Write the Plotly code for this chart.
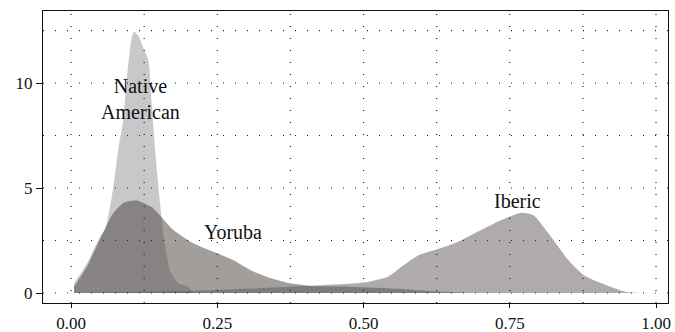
import plotly.graph_objects as go

# Native American density
na_x = [0.005, 0.027, 0.05, 0.058, 0.072, 0.081, 0.089, 0.095, 0.104, 0.108, 0.116, 0.123, 0.132, 0.138, 0.144, 0.152, 0.158, 0.169, 0.183, 0.2, 0.209]
na_y = [0.45, 1.4, 2.7, 3.0, 5.0, 6.9, 8.2, 10.1, 12.2, 12.45, 12.2, 11.7, 11.1, 9.0, 6.7, 4.3, 2.7, 1.1, 0.48, 0.3, 0.0]

# Yoruba density
yo_x = [0.005, 0.027, 0.05, 0.072, 0.09, 0.112, 0.14, 0.175, 0.209, 0.249, 0.277, 0.306, 0.334, 0.374, 0.42, 0.47, 0.52, 0.57, 0.62, 0.68]
yo_y = [0.3, 1.25, 2.6, 3.8, 4.3, 4.4, 4.04, 3.0, 2.37, 1.9, 1.57, 1.1, 0.78, 0.47, 0.32, 0.3, 0.25, 0.18, 0.08, 0.0]

# Iberic density
ib_x = [0.03, 0.1, 0.2, 0.3, 0.4, 0.45, 0.5, 0.542, 0.565, 0.594, 0.622, 0.656, 0.69, 0.736, 0.77, 0.79, 0.816, 0.85, 0.876, 0.907, 0.947, 0.975]
ib_y = [0.02, 0.05, 0.1, 0.2, 0.33, 0.4, 0.5, 0.78, 1.25, 1.8, 2.05, 2.37, 2.85, 3.48, 3.82, 3.71, 2.84, 1.57, 0.86, 0.46, 0.06, 0.0]

x_ticks = [0.0, 0.25, 0.5, 0.75, 1.0]
x_tick_text = ["0.00", "0.25", "0.50", "0.75", "1.00"]
y_ticks = [0, 5, 10]
x_grid = [0.0, 0.125, 0.25, 0.375, 0.5, 0.625, 0.75, 0.875, 1.0]
y_grid = [0, 2.5, 5, 7.5, 10, 12.5]

labels = ["Native<br>American", "Yoruba", "Iberic"]
label_x = [0.118, 0.277, 0.764]
label_y = [9.25, 2.9, 4.4]

FONT = "Liberation Serif, Times New Roman, serif"

fig = go.Figure()
fig.add_trace(go.Scatter(x=na_x, y=na_y, mode="lines", fill="tozeroy",
                         line=dict(width=0, shape="spline", smoothing=0.6),
                         fillcolor="#c8c8ca", hoverinfo="skip"))
fig.add_trace(go.Scatter(x=yo_x, y=yo_y, mode="lines", fill="tozeroy",
                         line=dict(width=0, shape="spline", smoothing=0.6),
                         fillcolor="rgba(67,61,58,0.5)", hoverinfo="skip"))
fig.add_trace(go.Scatter(x=ib_x, y=ib_y, mode="lines", fill="tozeroy",
                         line=dict(width=0, shape="spline", smoothing=0.6),
                         fillcolor="rgba(93,88,85,0.5)", hoverinfo="skip"))

shapes = []
for gx in x_grid:
    shapes.append(dict(type="line", xref="x", yref="paper", x0=gx, x1=gx, y0=0, y1=1,
                       layer="above", line=dict(color="#222", width=1.2, dash="1px,11px")))
for gy in y_grid:
    shapes.append(dict(type="line", xref="paper", yref="y", x0=0, x1=1, y0=gy, y1=gy,
                       layer="above", line=dict(color="#222", width=1.2, dash="1px,11px")))

annotations = [dict(x=lx, y=ly, text=t, showarrow=False, xref="x", yref="y",
                    font=dict(family=FONT, size=20, color="#111"))
               for t, lx, ly in zip(labels, label_x, label_y)]

fig.update_layout(
    width=675, height=332,
    margin=dict(l=43, r=7, t=11, b=29),
    paper_bgcolor="white", plot_bgcolor="white",
    showlegend=False,
    shapes=shapes,
    annotations=annotations,
    font=dict(family=FONT, size=17, color="#111"),
    xaxis=dict(range=[-0.048, 1.0205], tickvals=x_ticks, ticktext=x_tick_text,
               showgrid=False, zeroline=False, showline=True, mirror=True,
               linecolor="#111", linewidth=1.3, ticks="outside", ticklen=4,
               tickcolor="#111", tickfont=dict(family=FONT, size=17), automargin=False),
    yaxis=dict(range=[-0.476, 13.43], tickvals=y_ticks,
               showgrid=False, zeroline=False, showline=True, mirror=True,
               linecolor="#111", linewidth=1.3, ticks="outside", ticklen=6,
               tickcolor="#111", tickfont=dict(family=FONT, size=17), automargin=False),
)

fig.write_html("out.html", config={"displayModeBar": False},
               post_script="document.body.style.margin='0';document.body.style.overflow='hidden';")
